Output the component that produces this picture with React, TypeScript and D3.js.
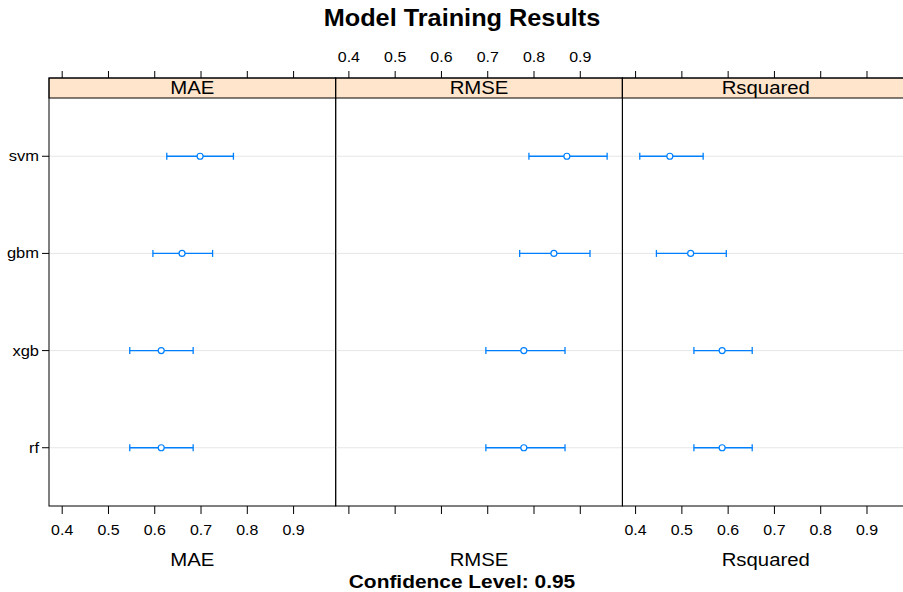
import React from "react";
import * as d3 from "d3";

const models = ["svm", "gbm", "xgb", "rf"];
const metrics = ["MAE", "RMSE", "Rsquared"];
const ticks = [0.4, 0.5, 0.6, 0.7, 0.8, 0.9];

// per metric: values in model order (svm, gbm, xgb, rf)
const maeMean = [0.698, 0.659, 0.614, 0.614];
const maeLower = [0.626, 0.596, 0.546, 0.546];
const maeUpper = [0.77, 0.725, 0.683, 0.683];
const rmseMean = [0.871, 0.843, 0.778, 0.778];
const rmseLower = [0.789, 0.769, 0.696, 0.696];
const rmseUpper = [0.958, 0.921, 0.867, 0.867];
const rsqMean = [0.474, 0.519, 0.587, 0.587];
const rsqLower = [0.409, 0.445, 0.526, 0.526];
const rsqUpper = [0.546, 0.596, 0.652, 0.652];

const means = [maeMean, rmseMean, rsqMean];
const lowers = [maeLower, rmseLower, rsqLower];
const uppers = [maeUpper, rmseUpper, rsqUpper];

const W = 903;
const H = 592;
const left = 49;
const panelW = 286.7;
const stripTop = 78;
const stripH = 20;
const panelBottom = 506;
const blue = "#0080ff";
const font = "'Liberation Sans', Arial, sans-serif";
const sx = 1.1;

function T({ x, y, size, anchor = "middle", bold = false, children }: any) {
  return (
    <g transform={`translate(${x},${y}) scale(${sx},1)`}>
      <text
        textAnchor={anchor}
        fontSize={size}
        fontWeight={bold ? "bold" : "normal"}
        fontFamily={font}
        fill="#000"
      >
        {children}
      </text>
    </g>
  );
}

export default function App() {
  const y = d3
    .scalePoint<string>()
    .domain([...models].reverse())
    .range([panelBottom - 0.6 * 97.1, stripTop + stripH + 0.6 * 97.1]);

  return (
    <svg width={W} height={H} style={{ position: "absolute", left: 0, top: 0 }}>
      <rect width={W} height={H} fill="#fff" />
      <T x={462} y={26} size={23} bold>
        Model Training Results
      </T>

      {metrics.map((m, i) => {
        const x0 = left + i * panelW;
        const x = d3.scaleLinear().domain([0.3715, 0.991]).range([x0, x0 + panelW]);
        const labelsTop = i === 1;
        return (
          <g key={m}>
            {/* row reference lines */}
            {models.map((md) => (
              <line key={md} x1={x0} x2={x0 + panelW} y1={y(md)} y2={y(md)} stroke="#e6e6e6" />
            ))}
            {/* strip */}
            <rect x={x0} y={stripTop} width={panelW} height={stripH} fill="#ffe5cc" stroke="#000" />
            <T x={x0 + panelW / 2} y={stripTop + 16} size={18.5}>
              {m}
            </T>
            <rect x={x0} y={stripTop} width={panelW} height={panelBottom - stripTop} fill="none" stroke="#000" />
            {/* ticks */}
            {ticks.map((t) => (
              <g key={t}>
                <line x1={x(t)} x2={x(t)} y1={stripTop - 7} y2={stripTop} stroke="#000" />
                <line x1={x(t)} x2={x(t)} y1={panelBottom} y2={panelBottom + 8} stroke="#000" />
                {labelsTop ? (
                  <T x={x(t)} y={62} size={14.5}>
                    {t.toFixed(1)}
                  </T>
                ) : (
                  <T x={x(t)} y={535} size={14.5}>
                    {t.toFixed(1)}
                  </T>
                )}
              </g>
            ))}
            <T x={x0 + panelW / 2} y={566} size={18.5}>
              {m}
            </T>
            {/* intervals */}
            {models.map((md, j) => {
              const yy = y(md) as number;
              return (
                <g key={md} stroke={blue} fill="none">
                  <line x1={x(lowers[i][j])} x2={x(uppers[i][j])} y1={yy} y2={yy} strokeWidth={1.3} />
                  <line x1={x(lowers[i][j])} x2={x(lowers[i][j])} y1={yy - 3.5} y2={yy + 3.5} strokeWidth={1.3} />
                  <line x1={x(uppers[i][j])} x2={x(uppers[i][j])} y1={yy - 3.5} y2={yy + 3.5} strokeWidth={1.3} />
                  <circle cx={x(means[i][j])} cy={yy} r={3} fill="#fff" strokeWidth={1.2} />
                </g>
              );
            })}
          </g>
        );
      })}

      {/* y axis */}
      {models.map((md) => (
        <g key={md}>
          <line x1={left - 7} x2={left} y1={y(md)} y2={y(md)} stroke="#000" />
          <T x={39} y={(y(md) as number) + 5} size={15} anchor="end">
            {md}
          </T>
        </g>
      ))}

      <T x={462} y={588} size={19} bold>
        Confidence Level: 0.95
      </T>
    </svg>
  );
}
